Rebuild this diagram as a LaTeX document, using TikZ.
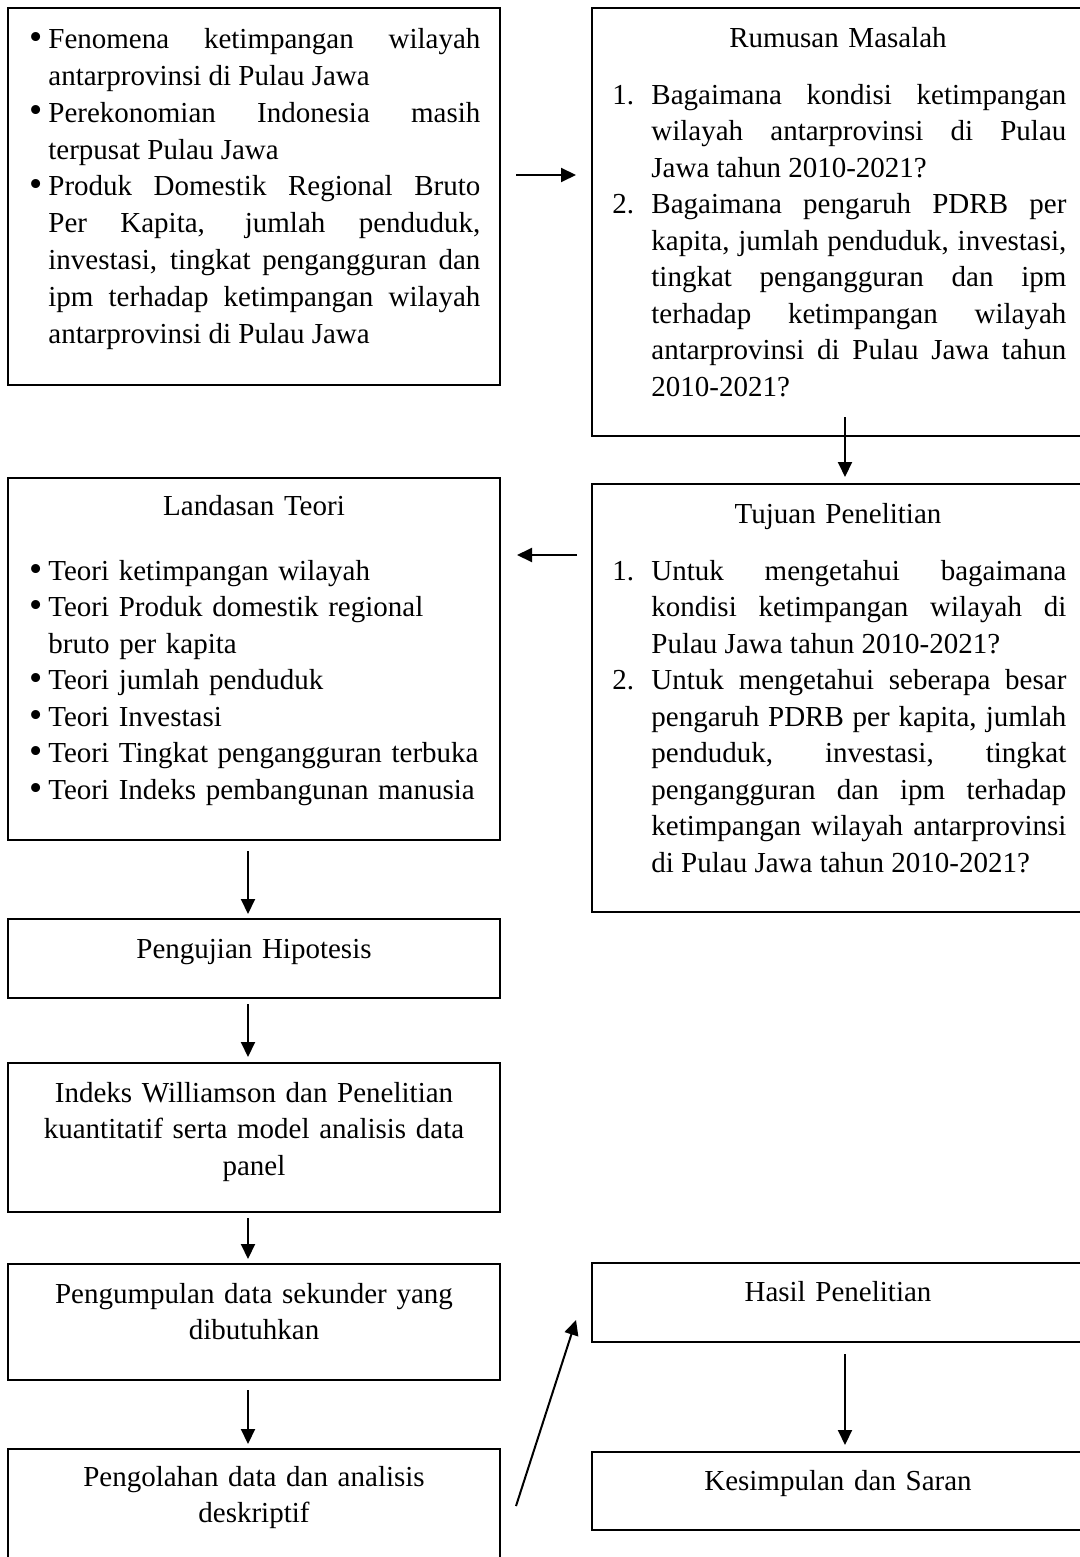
\documentclass[tikz,border=0pt]{standalone}
\usepackage{fontspec}
\setmainfont{Liberation Serif}
\usepackage{enumitem}
\usetikzlibrary{arrows.meta}

\setlist[itemize]{label=\raisebox{-0.4pt}{\scalebox{1.3}{\textbullet}}, leftmargin=9pt, labelindent=0pt, labelwidth=6pt, labelsep=3pt, align=right, itemsep=0pt, topsep=0pt, parsep=0pt, partopsep=0pt}
\setlist[enumerate]{label=\arabic*., leftmargin=19.5pt, labelindent=0pt, labelwidth=11pt, labelsep=8.5pt, align=left, itemsep=0pt, topsep=0pt, parsep=0pt, partopsep=0pt}
\tolerance=10000
\hbadness=10000

\begin{document}
\begin{tikzpicture}[x=0.5pt, y=-0.5pt,
    box/.style={draw=black, line width=1.1pt, inner sep=0pt, outer sep=0pt, anchor=north west, minimum width=246pt},
    txt/.style={inner sep=0pt, font=\fontsize{14.5pt}{18.25pt}\selectfont},
    ctr/.style={txt, anchor=north, text width=230pt, align=center},
    lst/.style={txt, anchor=north west, align=justify},
    arr/.style={-{Triangle[length=7.5pt,width=7pt]}, line width=1pt}]
    \def\pxl{0.5pt}

    % Page frame
    \useasboundingbox (0,0) rectangle (1080,1557);
    \clip (0,0) rectangle (1080,1557);

    % Boxes, left column
    \node[box, minimum height=377*\pxl] (fenomena) at (8,8) {};
    \node[box, minimum height=362*\pxl] (landasan) at (8,478) {};
    \node[box, minimum height=79*\pxl] (pengujian) at (8,919) {};
    \node[box, minimum height=149*\pxl] (indeks) at (8,1063) {};
    \node[box, minimum height=116*\pxl] (pengumpulan) at (8,1264) {};
    \node[box, minimum height=200*\pxl] (pengolahan) at (8,1449) {};

    % Boxes, right column
    \node[box, minimum height=428*\pxl] (rumusan) at (592,8) {};
    \node[box, minimum height=428*\pxl] (tujuan) at (592,484) {};
    \node[box, minimum height=79*\pxl] (hasil) at (592,1263) {};
    \node[box, minimum height=78*\pxl] (kesimpulan) at (592,1452) {};

    % Texts of the boxes
    \node[lst, text width=225pt, font=\fontsize{14.5pt}{18.45pt}\selectfont] (fenomenaTxt) at (30,11.1) {%
      \begin{itemize}
        \item \strut Fenomena ketimpangan wilayah\linebreak antarprovinsi di Pulau Jawa
        \item Perekonomian Indonesia masih\linebreak terpusat Pulau Jawa
        \item Produk Domestik Regional Bruto\linebreak Per Kapita, jumlah penduduk,\linebreak investasi, tingkat pengangguran dan\linebreak ipm terhadap ketimpangan wilayah\linebreak antarprovinsi di Pulau Jawa
      \end{itemize}};

    \node[ctr] (rumusanTtl) at (838,21.45) {\strut Rumusan Masalah};
    \node[lst, text width=227pt] (rumusanTxt) at (612,67.5) {%
      \begin{enumerate}
        \item \strut Bagaimana kondisi ketimpangan\linebreak wilayah antarprovinsi di Pulau\linebreak Jawa tahun 2010-2021?
        \item Bagaimana pengaruh PDRB per\linebreak kapita, jumlah penduduk, investasi,\linebreak tingkat pengangguran dan ipm\linebreak terhadap ketimpangan wilayah\linebreak antarprovinsi di Pulau Jawa tahun\linebreak 2010-2021?
      \end{enumerate}};

    \node[ctr] (tujuanTtl) at (838,497.45) {\strut Tujuan Penelitian};
    \node[lst, text width=227pt] (tujuanTxt) at (612,543.5) {%
      \begin{enumerate}
        \item \strut Untuk mengetahui bagaimana\linebreak kondisi ketimpangan wilayah di\linebreak Pulau Jawa tahun 2010-2021?
        \item Untuk mengetahui seberapa besar\linebreak pengaruh PDRB per kapita, jumlah\linebreak penduduk, investasi, tingkat\linebreak pengangguran dan ipm terhadap\linebreak ketimpangan wilayah antarprovinsi\linebreak di Pulau Jawa tahun 2010-2021?
      \end{enumerate}};

    \node[ctr] (landasanTtl) at (254,489.45) {\strut Landasan Teori};
    \node[txt, anchor=north west, text width=230pt, align=left] (landasanTxt) at (30,543.5) {%
      \begin{itemize}
        \item \strut Teori ketimpangan wilayah
        \item Teori Produk domestik regional\newline bruto per kapita
        \item Teori jumlah penduduk
        \item Teori Investasi
        \item Teori Tingkat pengangguran terbuka
        \item Teori Indeks pembangunan manusia
      \end{itemize}};

    \node[ctr] (pengujianTxt) at (254,932.45) {\strut Pengujian Hipotesis};
    \node[ctr] (indeksTxt) at (254,1076.45) {\strut Indeks Williamson dan Penelitian\\ kuantitatif serta model analisis data\\ panel};
    \node[ctr] (pengumpulanTxt) at (254,1277.45) {\strut Pengumpulan data sekunder yang\\ dibutuhkan};
    \node[ctr] (pengolahanTxt) at (254,1460.45) {\strut Pengolahan data dan analisis\\ deskriptif};
    \node[ctr] (hasilTxt) at (838,1275.45) {\strut Hasil Penelitian};
    \node[ctr] (kesimpulanTxt) at (838,1464.45) {\strut Kesimpulan dan Saran};

    % Arrows
    \draw[arr] ([shift={(16,167)}]fenomena.north east) -- ([shift={(-16,167)}]rumusan.north west);
    \draw[arr] ([shift={(253,-19)}]rumusan.south west) -- ([shift={(253,-7)}]tujuan.north west);
    \draw[arr] ([shift={(-15,71)}]tujuan.north west) -- ([shift={(17,77)}]landasan.north east);
    \draw[arr] ([shift={(240,11)}]landasan.south west) -- ([shift={(240,-5)}]pengujian.north west);
    \draw[arr] ([shift={(240,6)}]pengujian.south west) -- ([shift={(240,-6)}]indeks.north west);
    \draw[arr] ([shift={(240,6)}]indeks.south west) -- ([shift={(240,-5)}]pengumpulan.north west);
    \draw[arr] ([shift={(240,10)}]pengumpulan.south west) -- ([shift={(240,-5)}]pengolahan.north west);
    \draw[arr] ([shift={(16,57)}]pengolahan.north east) -- ([shift={(-16,57)}]hasil.north west);
    \draw[arr] ([shift={(253,12)}]hasil.south west) -- ([shift={(253,-7)}]kesimpulan.north west);

\end{tikzpicture}
\end{document}
